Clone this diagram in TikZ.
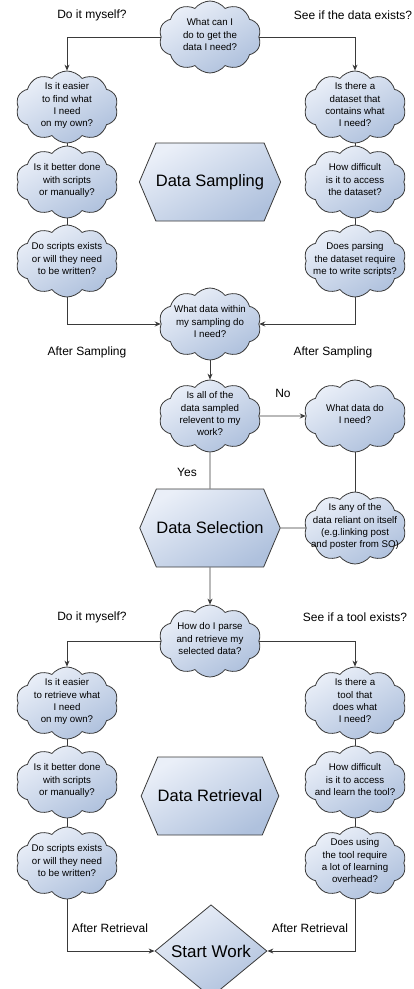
\documentclass[tikz,border=0pt]{standalone}
\usepackage{fontspec}
\setmainfont{Liberation Sans}
\usetikzlibrary{shapes.symbols,shapes.geometric,arrows.meta}
\definecolor{fillA}{HTML}{EAEFF8}
\definecolor{fillB}{HTML}{AFC1DD}
\definecolor{edge}{HTML}{3A3A3A}
\newcommand{\btext}[1]{\raisebox{-2.5pt}{\smash{\makebox[0pt]{\begin{tabular}{@{}c@{}}#1\end{tabular}}}}}

\begin{document}
\begin{tikzpicture}[x=1pt,y=-1pt,line width=0.8pt,
		bubble/.style={cloud,cloud puffs=10,cloud puff arc=105,aspect=1.4,draw=edge,
			top color=fillA,bottom color=fillB,shading angle=30,
			minimum width=102pt,minimum height=72pt,inner sep=0pt,
			font=\fontsize{9.7}{12.4}\selectfont},
		hexa/.style={signal,signal to=west and east,signal pointer angle=134,draw=edge,
			top color=fillA,bottom color=fillB,shading angle=30,
			minimum width=115pt,minimum height=78pt,inner sep=0pt,
			font=\fontsize{16.5}{18}\selectfont},
		lbl/.style={font=\fontsize{12}{14}\selectfont},
		link/.style={draw=edge},
		arr/.style={link,-{Stealth[length=6pt,width=5pt]}}]
	\useasboundingbox (0,0) rectangle (414,989);
	\def\xl{67} \def\xm{210} \def\xr{355}
	% data sampling
	\node[bubble] (ask) at (\xm,37) {\btext{What can I\\do to get the\\data I need?}};
	\node[bubble] (L1) at (\xl,107) {\btext{Is it easier\\to find what\\I need\\on my own?}};
	\node[bubble] (L2) at (\xl,182) {\btext{Is it better done\\with scripts\\or manually?}};
	\node[bubble] (L3) at (\xl,261) {\btext{Do scripts exists\\or will they need\\to be written?}};
	\node[bubble] (R1) at (\xr,107) {\btext{Is there a\\dataset that\\contains what\\I need?}};
	\node[bubble] (R2) at (\xr,182) {\btext{How difficult\\is it to access\\the dataset?}};
	\node[bubble] (R3) at (\xr,261) {\btext{Does parsing\\the dataset require\\me to write scripts?}};
	\node[hexa] (sampling) at (\xm,182) {Data Sampling};
	\node[lbl] (myselfA) at (92,15) {Do it myself?};
	\node[lbl] (exists) at (353,15) {See if the data exists?};
	\draw[arr] (ask.west) -| (L1.north);
	\draw[arr] (ask.east) -| (R1.north);
	\draw[link] (L1) -- (L2) -- (L3);
	\draw[link] (R1) -- (R2) -- (R3);
	% data selection
	\node[bubble] (within) at (\xm,324) {\btext{What data within\\my sampling do\\I need?}};
	\node[lbl] (afterSL) at (87,352) {After Sampling};
	\node[lbl] (afterSR) at (333,352) {After Sampling};
	\draw[arr] (L3.south) |- (within.west);
	\draw[arr] (R3.south) |- (within.east);
	\node[bubble] (relevant) at (\xm,416) {\btext{Is all of the\\data sampled\\relevent to my\\work?}};
	\node[bubble] (need) at (\xr,416) {\btext{What data do\\I need?}};
	\node[hexa] (selection) at (\xm,528) {Data Selection};
	\node[bubble] (reliant) at (\xr,528) {\btext{Is any of the\\data reliant on itself\\(e.g.linking post\\and poster from SO)}};
	\node[lbl] (no) at (283,393) {No};
	\node[lbl] (yes) at (187,472) {Yes};
	\draw[arr] (within) -- (relevant);
	\draw[arr] (relevant) -- (need);
	\draw[link] (relevant) -- (selection);
	\draw[link] (need) -- (reliant);
	\draw[link] (selection) -- (reliant);
	% data retrieval
	\node[bubble] (parse) at (\xm,641) {\btext{How do I parse\\and retrieve my\\selected data?}};
	\node[lbl] (myselfB) at (92,617) {Do it myself?};
	\node[lbl] (tool) at (355,617) {See if a tool exists?};
	\draw[arr] (selection) -- (parse);
	\node[bubble] (BL1) at (\xl,703) {\btext{Is it easier\\to retrieve what\\I need\\on my own?}};
	\node[bubble] (BL2) at (\xl,782) {\btext{Is it better done\\with scripts\\or manually?}};
	\node[bubble] (BL3) at (\xl,863) {\btext{Do scripts exists\\or will they need\\to be written?}};
	\node[bubble] (BR1) at (\xr,703) {\btext{Is there a\\tool that\\does what\\I need?}};
	\node[bubble] (BR2) at (\xr,782) {\btext{How difficult\\is it to access\\and learn the tool?}};
	\node[bubble] (BR3) at (\xr,863) {\btext{Does using\\the tool require\\a lot of learning\\overhead?}};
	\node[hexa] (retrieval) at (\xm,796) {Data Retrieval};
	\draw[arr] (parse.west) -| (BL1.north);
	\draw[arr] (parse.east) -| (BR1.north);
	\draw[link] (BL1) -- (BL2) -- (BL3);
	\draw[link] (BR1) -- (BR2) -- (BR3);
	% start
	\node[diamond,draw=edge,top color=fillA,bottom color=fillB,shading angle=30,
		minimum width=112pt,minimum height=75pt,inner sep=0pt,
		font=\fontsize{17}{19}\selectfont] (start) at (211,951) {Start Work};
	\node[lbl] (afterRL) at (110,928) {After Retrieval};
	\node[lbl] (afterRR) at (310,928) {After Retrieval};
	\draw[arr] (BL3.south) |- (start.west);
	\draw[arr] (BR3.south) |- (start.east);
\end{tikzpicture}
\end{document}
